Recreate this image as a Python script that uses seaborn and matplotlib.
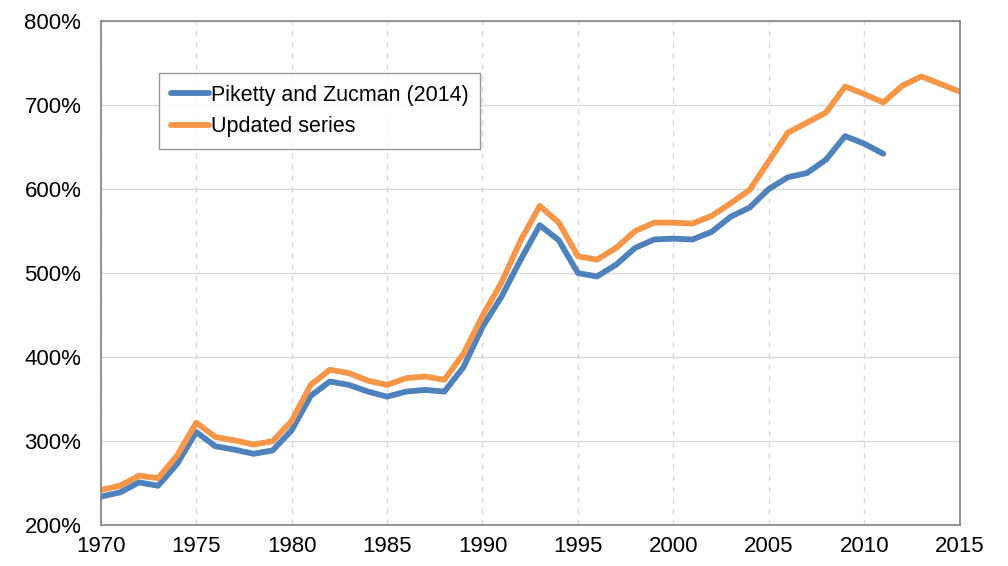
import numpy as np
import pandas as pd
import matplotlib
matplotlib.use('Agg')
import matplotlib.pyplot as plt
import seaborn as sns

sns.set_style('white')
plt.rcParams['font.family'] = ['Liberation Sans', 'DejaVu Sans']

years_pz = list(range(1970, 2012))
piketty = [234, 239, 251, 247, 273, 311, 294, 290, 285, 289,
           313, 354, 371, 367, 359, 353, 359, 361, 359, 388,
           436, 472, 516, 557, 539, 500, 496, 510, 530, 540,
           541, 540, 549, 567, 578, 600, 614, 619, 635, 663,
           654, 642]

years_up = list(range(1970, 2016))
updated = [242, 247, 259, 256, 283, 322, 305, 301, 296, 300,
           324, 367, 385, 381, 372, 367, 375, 377, 373, 404,
           449, 489, 539, 580, 560, 520, 516, 530, 550, 560,
           560, 559, 568, 583, 599, 633, 667, 679, 691, 722,
           713, 703, 723, 734, 725, 716]

df = pd.concat([
    pd.DataFrame({'year': years_pz, 'value': piketty, 'series': 'Piketty and Zucman (2014)'}),
    pd.DataFrame({'year': years_up, 'value': updated, 'series': 'Updated series'}),
])

fig, ax = plt.subplots(figsize=(10.08, 5.66), dpi=100)
fig.subplots_adjust(left=0.1, right=0.952, top=0.963, bottom=0.072)

sns.lineplot(data=df, x='year', y='value', hue='series', ax=ax,
             palette=['#4F81BD', '#F79646'], linewidth=4.2, legend=True)

ax.set_xlim(1970, 2015)
ax.set_ylim(200, 800)
ax.set_xticks(range(1970, 2016, 5))
ax.set_yticks(range(200, 801, 100))
ax.set_yticklabels([f'{v}%' for v in range(200, 801, 100)])
ax.set_xlabel('')
ax.set_ylabel('')
ax.tick_params(labelsize=16, length=0, labelcolor='black')
ax.tick_params(axis='y', pad=14)
ax.tick_params(axis='x', pad=8)

ax.grid(axis='y', color='#d9d9d9', linewidth=1, linestyle='-')
ax.grid(axis='x', color='#d9d9d9', linewidth=1, linestyle=(0, (4, 4)))
ax.set_axisbelow(True)
for s in ax.spines.values():
    s.set_color('#808080')
    s.set_linewidth(1.2)

leg = ax.legend(loc='upper left', bbox_to_anchor=(0.068, 0.897), fontsize=15.5,
                frameon=True, fancybox=False, edgecolor='#808080',
                handlelength=1.75, handletextpad=0.1, borderpad=0.55,
                labelspacing=0.5, borderaxespad=0)
leg.get_frame().set_linewidth(1)
for t in leg.get_texts():
    t.set_color('black')

fig.savefig('out.png', dpi=100)
